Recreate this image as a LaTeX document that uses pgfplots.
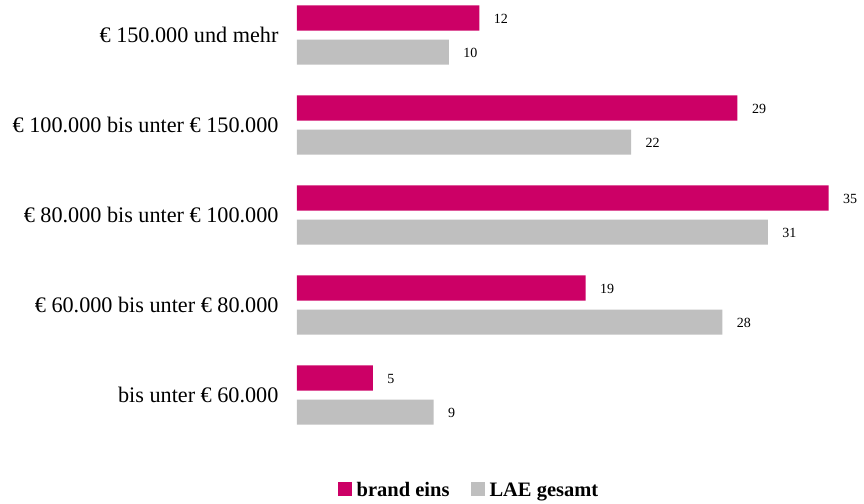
\documentclass[border=0pt]{standalone}
\usepackage{fontspec}
\setmainfont{Liberation Serif}
\usepackage{pgfplots}
\pgfplotsset{compat=1.18}
\definecolor{mag}{HTML}{CC0066}
\definecolor{gr}{HTML}{BFBFBF}
\begin{document}
\begin{tikzpicture}[x=1pt,y=1pt]
\begin{axis}[
  scale only axis,
  width=562pt, height=440pt,
  xmin=0, xmax=37,
  ymin=-0.5, ymax=4.389,
  hide x axis,
  axis y line*=left,
  y axis line style={draw=none},
  ytick={0,1,2,3,4},
  yticklabels={bis unter € 60.000, € 60.000 bis unter € 80.000, € 80.000 bis unter € 100.000, € 100.000 bis unter € 150.000, € 150.000 und mehr},
  yticklabel style={font=\fontsize{22.2}{25}\selectfont, xshift=-15pt},
  major tick length=0pt,
  xbar,
  bar width=0.278,
  clip=false,
  nodes near coords,
  /pgf/number format/assume math mode=true,
  nodes near coords style={font=\fontsize{14}{16}\selectfont, anchor=west, xshift=11pt, yshift=-1pt, text=black},
  legend style={draw=none, at={(0.306,-0.114)}, anchor=center, legend columns=2,
    font=\fontsize{20.5}{23}\selectfont\bfseries,
    /tikz/every odd column/.append style={column sep=3pt},
    /tikz/every even column/.append style={column sep=19pt}},
  legend image code/.code={\fill[#1] (0pt,-6pt) rectangle (14pt,8pt);},
]
\addplot[fill=mag, draw=none, bar shift=0.189] coordinates {(5,0) (19,1) (35,2) (29,3) (12,4)};
\addplot[fill=gr, draw=none, bar shift=-0.189] coordinates {(9,0) (28,1) (31,2) (22,3) (10,4)};
\legend{brand eins, LAE gesamt}
\path (rel axis cs:0,1) ++(-297pt,0pt);
\path (rel axis cs:0,0) ++(567pt,-63pt);
\end{axis}
\end{tikzpicture}
\end{document}
